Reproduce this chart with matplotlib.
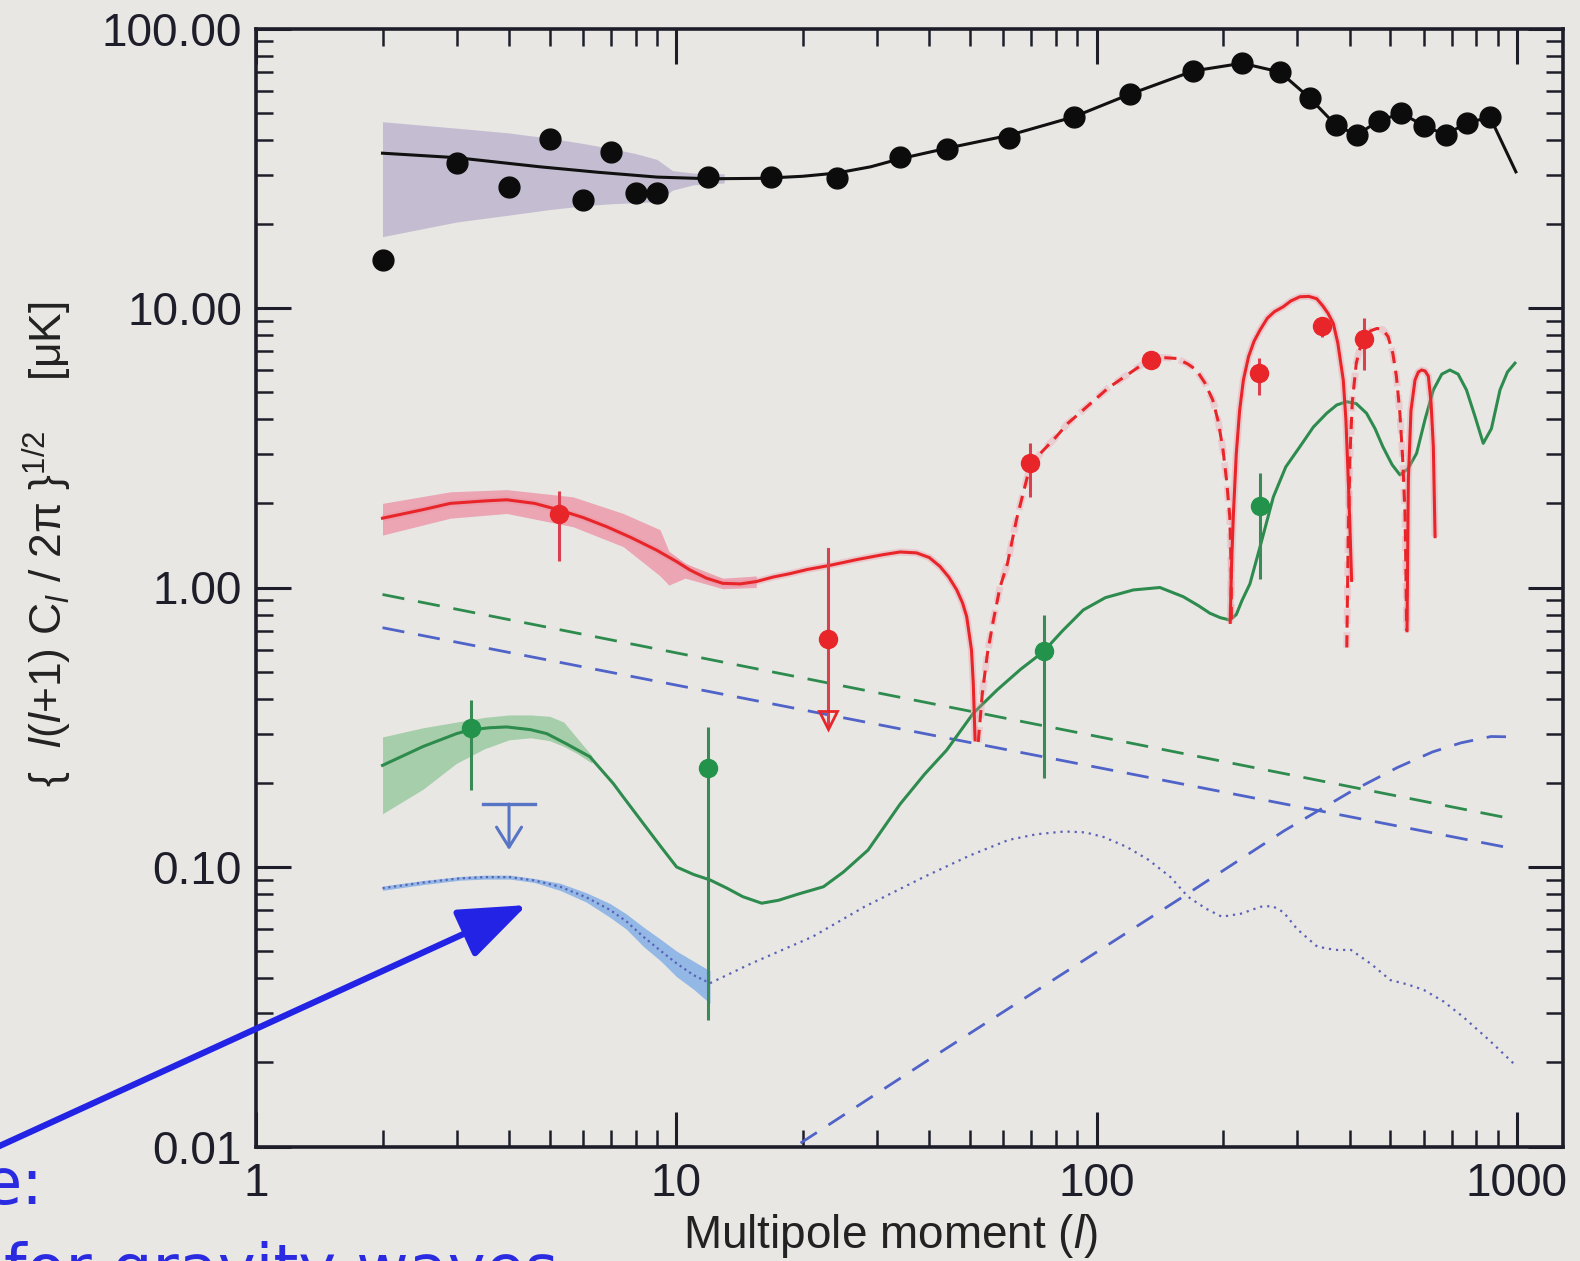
import matplotlib
matplotlib.use("Agg")
import matplotlib.pyplot as plt
from matplotlib.ticker import FixedLocator, FormatStrFormatter, LogLocator, NullFormatter

plt.rcParams['font.family'] = ['Liberation Sans', 'DejaVu Sans']
plt.rcParams['mathtext.fontset'] = 'custom'
plt.rcParams['mathtext.rm'] = 'Liberation Sans'
plt.rcParams['mathtext.it'] = 'Liberation Sans:italic'

# ---------------- TT (black) ----------------
tt_data_l = [2, 3, 4, 5, 6, 7, 8, 9, 11.9, 16.8, 24.1, 34.1, 44.1, 62, 88.3,
             120, 170, 222, 273, 322, 371, 416, 469, 531, 602, 677, 760, 864]
tt_data_v = [14.8, 33.0, 27.2, 40.2, 24.4, 36.1, 25.7, 25.8, 29.4, 29.4, 29.2, 34.8, 37.0, 40.7, 48.3,
             58.2, 70.5, 75.1, 69.9, 56.3, 45.1, 41.6, 46.7, 49.7, 44.9, 41.6, 46.0, 48.1]

tt_model_l = [2, 3, 4.74, 6.5, 9, 12, 16, 20, 24.1, 29, 34.1, 44.1, 62, 88.3, 120, 170,
              222, 273, 322, 371, 416, 469, 531, 602, 677, 760, 864, 995]
tt_model_v = [35.8, 34.5, 32.0, 30.6, 29.4, 29.0, 29.1, 29.6, 30.4, 32.0, 34.2, 37.3, 41.5, 48.3, 58.2, 70.5,
              75.1, 69.9, 56.3, 45.1, 41.6, 46.7, 49.7, 44.9, 41.6, 46.0, 48.1, 30.7]

tt_band_l = [2, 3, 4, 5, 6, 7, 8, 9, 9.8, 11, 13]
tt_band_hi = [46.4, 44.0, 42.3, 40.5, 38.8, 37.2, 35.7, 34.0, 31.0, 30.4, 30.2]
tt_band_lo = [18.0, 20.3, 21.5, 22.5, 23.2, 23.6, 23.8, 24.0, 26.4, 27.6, 28.0]

# ---------------- TE (red) ----------------
te_pos1_l = [2, 2.5, 2.9, 3.5, 3.95, 4.6, 5.29, 6.0, 6.83, 7.8, 8.98, 10.0, 10.78, 11.8, 12.9, 14.2,
             15.5, 17, 18.6, 20.5, 23.2, 27, 31, 34.1, 37.3, 40, 42.4, 44.5, 46.5, 48, 49.1, 50.4, 50.9, 51.4]
te_pos1_v = [1.77, 1.90, 2.0, 2.04, 2.06, 2.0, 1.89, 1.78, 1.65, 1.51, 1.36, 1.24, 1.155, 1.08, 1.035, 1.03,
             1.05, 1.09, 1.12, 1.16, 1.20, 1.26, 1.31, 1.34, 1.33, 1.28, 1.19, 1.09, 0.98, 0.88, 0.786, 0.598, 0.454, 0.285]

te_neg1_l = [52.3, 53.5, 55, 56.6, 58.9, 61.4, 64.5, 69.4, 74, 80, 85.5, 93, 106.7, 122, 131.5, 143,
             155, 165, 172.8, 181, 189, 195, 200, 204, 207.5, 209, 209.4]
te_neg1_v = [0.28, 0.42, 0.58, 0.74, 1.0, 1.22, 1.75, 2.7, 3.05, 3.45, 3.87, 4.32, 5.18, 5.95, 6.43, 6.65,
             6.6, 6.3, 6.0, 5.4, 4.69, 3.9, 3.1, 2.4, 1.79, 1.2, 0.75]

te_pos2_l = [208, 209.5, 211.7, 215, 219, 223.6, 230, 237, 244.9, 255, 265, 278, 290, 304.7, 320, 334,
             345, 355, 365.8, 375, 386.4, 392, 397.2, 401, 404.5]
te_pos2_v = [0.75, 1.2, 1.84, 3.0, 4.3, 5.53, 6.7, 7.6, 8.34, 9.2, 9.7, 10.1, 10.6, 10.97, 11.0, 10.8,
             10.2, 9.6, 8.81, 7.5, 5.53, 4.0, 2.43, 1.6, 1.06]

te_neg2_l = [394, 397, 401, 406, 415, 425, 434, 450, 465, 480, 494, 507, 517, 527, 535, 542, 545, 547]
te_neg2_v = [0.61, 1.5, 3.0, 4.6, 6.35, 7.3, 7.9, 8.3, 8.45, 8.37, 7.9, 6.88, 5.7, 4.2, 2.9, 1.84, 1.1, 0.7]

te_pos3_l = [548, 552, 560, 572.6, 583, 593.7, 605, 616, 625, 633, 636, 639]
te_pos3_v = [0.7, 2.43, 4.3, 5.53, 5.9, 6.0, 5.95, 5.7, 4.6, 3.19, 2.2, 1.52]

te_band_l = [2, 2.9, 3.95, 5.68, 7.48, 9.15, 9.6, 10.5, 12.9, 15.5]
te_band_hi = [2.0, 2.2, 2.24, 2.11, 1.84, 1.61, 1.35, 1.22, 1.08, 1.10]
te_band_lo = [1.54, 1.77, 1.84, 1.65, 1.40, 1.10, 1.02, 1.08, 0.99, 1.0]

te_data_l = [5.26, 69.4, 134.5, 243, 344, 434]
te_data_v = [1.83, 2.78, 6.53, 5.87, 8.65, 7.77]
te_data_hi = [2.22, 3.30, 6.85, 6.60, 9.30, 9.20]
te_data_lo = [1.24, 2.10, 6.20, 4.87, 7.90, 6.00]

# upper limit at l ~ 23
te_lim_l = 23.0
te_lim_v = 0.655
te_lim_hi = 1.37
te_lim_tip = 0.30

# ---------------- EE (green) ----------------
ee_model_l = [2, 2.5, 3.0, 3.22, 3.6, 3.95, 4.5, 4.92, 5.5, 6.23, 7.08, 7.48, 8.35, 9.2, 10.02, 11,
              12.03, 13.2, 14.4, 15.97, 17.5, 19.5, 22.4, 25, 28.6, 34.1, 39, 44, 50.9, 58, 66, 74.7,
              83, 93, 105, 122.3, 141.5, 160.8, 175, 186.1, 197, 207.6, 215, 222, 231.7, 245, 263.5,
              282, 304.7, 328, 352.8, 373, 393.6, 415, 439, 460, 480, 505, 527, 550, 577.5, 605, 633,
              663, 693, 725, 759, 795, 832, 870, 912, 950, 990]
ee_model_v = [0.231, 0.27, 0.30, 0.309, 0.315, 0.317, 0.31, 0.30, 0.275, 0.248, 0.199, 0.178, 0.143, 0.118, 0.1, 0.094,
              0.0899, 0.084, 0.0783, 0.0742, 0.076, 0.080, 0.085, 0.096, 0.115, 0.168, 0.215, 0.262, 0.355, 0.43, 0.51, 0.589,
              0.70, 0.831, 0.92, 0.98, 1.0, 0.927, 0.86, 0.809, 0.78, 0.765, 0.80, 0.9, 1.03, 1.4, 2.11,
              2.7, 3.19, 3.75, 4.2, 4.5, 4.62, 4.55, 4.2, 3.7, 3.19, 2.75, 2.53, 2.65, 3.02, 4.0, 5.09,
              5.8, 6.0, 5.8, 5.09, 4.1, 3.28, 3.7, 5.09, 5.9, 6.35]

ee_band_l = [2, 2.5, 3, 3.5, 4, 4.5, 5, 5.4, 5.8, 6.3]
ee_band_hi = [0.292, 0.315, 0.33, 0.343, 0.35, 0.35, 0.346, 0.33, 0.29, 0.25]
ee_band_lo = [0.155, 0.19, 0.235, 0.265, 0.285, 0.29, 0.283, 0.27, 0.255, 0.235]

ee_data_l = [3.24, 11.9, 75.0, 244.3]
ee_data_v = [0.313, 0.226, 0.593, 1.96]
ee_data_hi = [0.396, 0.316, 0.799, 2.56]
ee_data_lo = [0.189, 0.0284, 0.208, 1.07]

ee_fg_l = [2, 990]
ee_fg_v = [0.944, 0.148]

# ---------------- BB (blue) ----------------
bb_fg_l = [2, 990]
bb_fg_v = [0.718, 0.116]

bb_lens_l = [17, 19, 40, 80, 160, 280, 400, 520, 630, 736, 868, 990]
bb_lens_v = [0.0088, 0.0099, 0.0205, 0.040, 0.078, 0.135, 0.185, 0.227, 0.258, 0.278, 0.293, 0.292]

bb_low_l = [2, 2.5, 3.06, 3.5, 4.02, 4.6, 5.29, 6.1, 6.96, 7.6, 8.35, 9.2, 10.02, 11, 12.03]
bb_low_v = [0.084, 0.088, 0.0911, 0.092, 0.092, 0.0895, 0.085, 0.078, 0.0702, 0.064, 0.0563, 0.050, 0.0452, 0.041, 0.0384]
bb_low_hi = [0.0855, 0.0895, 0.0925, 0.0935, 0.0935, 0.091, 0.0875, 0.081, 0.074, 0.068, 0.061, 0.055, 0.050, 0.046, 0.0425]
bb_low_lo = [0.0825, 0.0865, 0.0897, 0.0905, 0.0905, 0.088, 0.0825, 0.075, 0.066, 0.060, 0.052, 0.046, 0.0405, 0.0365, 0.0325]

bb_high_l = [12.03, 15, 21.1, 28, 38.96, 50, 61.8, 72, 84, 94, 104, 118, 133, 150, 165, 182, 198.6, 220,
             246, 262, 278.6, 300, 335, 370, 403, 450, 500, 550, 601, 670, 745, 860, 983]
bb_high_v = [0.0384, 0.045, 0.0563, 0.072, 0.0923, 0.11, 0.125, 0.131, 0.134, 0.133, 0.128, 0.118, 0.106, 0.092,
             0.0783, 0.071, 0.0664, 0.068, 0.0721, 0.0725, 0.0689, 0.060, 0.0519, 0.0505, 0.0505, 0.045, 0.0394,
             0.038, 0.0363, 0.033, 0.0291, 0.024, 0.0198]

bb_lim_l = 4.0
bb_lim_bar = [3.47, 4.61]
bb_lim_v = 0.168
bb_lim_tip = 0.115

# annotation target on the low-l BB curve
arrow_target = (4.41, 0.0731)

x_ticks = [1, 10, 100, 1000]
x_tick_labels = ["1", "10", "100", "1000"]
y_ticks = [0.01, 0.1, 1, 10, 100]

BG = "#e9e7e4"
RED = "#e8262a"
PINK = "#eb8f9f"
GREEN = "#2e8b4e"
GREEN_BAND = "#9ccaa0"
BLUE_D = "#4f63c8"
BLUE_DOT = "#5a62b8"
BLUE_BAND = "#94b8e6"
LIMIT_BLUE = "#5874c4"
AXC = "#1e1e2a"

fig = plt.figure(figsize=(15.8, 12.61), dpi=100)
fig.patch.set_facecolor(BG)
W, H = 1580.0, 1261.0
ax = fig.add_axes([256 / W, 1 - 1146.5 / H, (1563 - 256) / W, (1146.5 - 28.5) / H])
ax.set_facecolor(BG)
ax.set_xscale('log')
ax.set_yscale('log')
ax.set_xlim(1, 1288)
ax.set_ylim(0.01, 100)

# shaded uncertainty bands
ax.fill_between(tt_band_l, tt_band_lo, tt_band_hi, color="#c4bdd1", lw=0, zorder=1)
ax.fill_between(te_band_l, te_band_lo, te_band_hi, color="#eba5b3", lw=0, zorder=1)
ax.fill_between(ee_band_l, ee_band_lo, ee_band_hi, color=GREEN_BAND, alpha=0.85, lw=0, zorder=1)
ax.fill_between(bb_low_l, bb_low_lo, bb_low_hi, color=BLUE_BAND, lw=0, zorder=1)

# foreground model lines
ax.plot(ee_fg_l, ee_fg_v, color=GREEN, lw=2.0, ls=(0, (8, 5)), zorder=2)
ax.plot(bb_fg_l, bb_fg_v, color=BLUE_D, lw=2.0, ls=(0, (8, 5)), zorder=2)
ax.plot(bb_lens_l, bb_lens_v, color=BLUE_D, lw=2.0, ls=(0, (7, 5)), zorder=2)

# BB reionization + lensing
ax.plot(bb_low_l, bb_low_v, color=BLUE_DOT, lw=1.6, ls=(0, (1, 1.6)), zorder=3)
ax.plot(bb_high_l, bb_high_v, color=BLUE_DOT, lw=1.6, ls=(0, (1, 2.2)), zorder=3)

# EE model
ax.plot(ee_model_l, ee_model_v, color=GREEN, lw=2.2, zorder=3)

# TE model: solid where positive, dashed where negative
for seg_l, seg_v in [(te_pos1_l, te_pos1_v), (te_pos2_l, te_pos2_v), (te_pos3_l, te_pos3_v)]:
    ax.plot(seg_l, seg_v, color=PINK, lw=5, alpha=0.35, zorder=3, solid_capstyle='butt')
    ax.plot(seg_l, seg_v, color=RED, lw=2.2, zorder=4)
for seg_l, seg_v in [(te_neg1_l, te_neg1_v), (te_neg2_l, te_neg2_v)]:
    ax.plot(seg_l, seg_v, color=PINK, lw=5, alpha=0.3, ls=(0, (2.2, 1.2)), zorder=3)
    ax.plot(seg_l, seg_v, color=RED, lw=2.2, ls=(0, (4, 2.5)), zorder=4)

# TT model and data
ax.plot(tt_model_l, tt_model_v, color="#111111", lw=2.2, zorder=5)
ax.plot(tt_data_l, tt_data_v, 'o', color="#0c0c0c", ms=15, zorder=6)

# TE data
te_err = [[v - lo for v, lo in zip(te_data_v, te_data_lo)], [hi - v for v, hi in zip(te_data_v, te_data_hi)]]
ax.errorbar(te_data_l, te_data_v, yerr=te_err, fmt='o', color=RED, ecolor="#d94050", ms=13, elinewidth=2.2,
            capsize=0, zorder=6)
ax.plot([te_lim_l, te_lim_l], [te_lim_hi, te_lim_tip * 1.06], color="#d94050", lw=2.2, zorder=5)
ax.plot([te_lim_l], [te_lim_tip * 1.12], marker='v', ms=13, mfc='none', mec=RED, mew=2.0, zorder=6)
ax.plot([te_lim_l], [te_lim_v], 'o', color=RED, ms=13, zorder=6)

# EE data
ee_err = [[v - lo for v, lo in zip(ee_data_v, ee_data_lo)], [hi - v for v, hi in zip(ee_data_v, ee_data_hi)]]
ax.errorbar(ee_data_l, ee_data_v, yerr=ee_err, fmt='o', color="#23924a", ecolor="#3a8a55", ms=13,
            elinewidth=2.2, capsize=0, zorder=6)

# BB upper limit: bar plus open arrow
ax.plot(bb_lim_bar, [bb_lim_v, bb_lim_v], color=LIMIT_BLUE, lw=2.4, zorder=5)
ax.annotate("", xy=(bb_lim_l, bb_lim_tip), xytext=(bb_lim_l, bb_lim_v),
            arrowprops=dict(arrowstyle="->,head_length=0.72,head_width=0.45", mutation_scale=20,
                            color=LIMIT_BLUE, lw=2.2, shrinkA=0, shrinkB=0), zorder=5)

# axes styling
for s in ax.spines.values():
    s.set_color(AXC)
    s.set_linewidth(2.6)
ax.xaxis.set_major_locator(FixedLocator(x_ticks))
ax.set_xticklabels(x_tick_labels)
ax.xaxis.set_minor_locator(LogLocator(base=10, subs=range(2, 10), numticks=20))
ax.xaxis.set_minor_formatter(NullFormatter())
ax.yaxis.set_major_locator(FixedLocator(y_ticks))
ax.yaxis.set_major_formatter(FormatStrFormatter('%.2f'))
ax.yaxis.set_minor_locator(LogLocator(base=10, subs=range(2, 10), numticks=20))
ax.yaxis.set_minor_formatter(NullFormatter())
ax.tick_params(which='both', direction='in', top=True, right=True, colors=AXC)
ax.tick_params(which='major', length=25, width=2.2, labelsize=33)
ax.tick_params(which='minor', length=12, width=1.8)
ax.tick_params(axis='x', which='major', pad=11)
ax.tick_params(axis='y', which='major', pad=10)

fig.text(890 / W, 1 - 1236 / H, r"Multipole moment ($\mathit{l}$)", ha='center', va='center',
         fontsize=33, color="#222222")
fig.text(47 / W, 1 - 544 / H,
         r"{  $\mathit{l}$($\mathit{l}$+1) C$_{\mathit{l}}$ / 2π }$^{1/2}$    [μK]",
         rotation=90, ha='center', va='center', fontsize=32, color="#222222")

# slide annotation
ax.annotate("", xy=arrow_target, xycoords='data', xytext=(-0.01, 1 - 1153 / H), textcoords='figure fraction',
            arrowprops=dict(arrowstyle="-|>,head_length=2.1,head_width=0.8", mutation_scale=20,
                            color="#2323e6", lw=4.5, shrinkA=0, shrinkB=0), annotation_clip=False, zorder=8)
fig.text(-18 / W, 1 - 1204 / H, "e:", fontsize=46, color="#2a2ae0", family="DejaVu Sans", va='baseline')
fig.text(4 / W, 1 - 1290 / H, "for gravity waves", fontsize=46, color="#2a2ae0", family="DejaVu Sans",
         va='baseline')

fig.savefig("out.png", dpi=100, facecolor=BG)
